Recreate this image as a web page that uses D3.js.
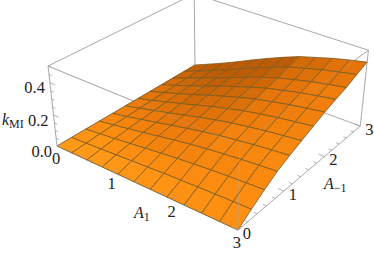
<!DOCTYPE html>
<html>
<head>
<meta charset="utf-8">
<script src="https://cdn.jsdelivr.net/npm/d3@7"></script>
<style>
html, body { margin: 0; padding: 0; background: #fff; }
text { font-family: "Liberation Serif", serif; fill: #222; }
</style>
</head>
<body>
<svg id="svg1"></svg>
<script>
var svg1 = d3.select("#svg1").attr("width", 374).attr("height", 254).style("display", "block");

// rows are A1 = 0..3, columns are A-1 = 0..3, in steps of 3/11
var gridA = [0, 0.2727, 0.5455, 0.8182, 1.0909, 1.3636, 1.6364, 1.9091, 2.1818, 2.4545, 2.7273, 3];
var kValues = [
	[0,0,0,0,0,0,0,0,0,0,0,0],
	[0,.006,.012,.017,.020,.024,.027,.031,.033,.036,.039,.043],
	[0,.012,.024,.034,.042,.049,.056,.063,.068,.074,.081,.087],
	[0,.019,.036,.052,.064,.075,.086,.096,.105,.113,.124,.134],
	[0,.026,.049,.071,.088,.102,.117,.132,.144,.154,.169,.183],
	[0,.032,.062,.090,.110,.129,.147,.165,.180,.194,.212,.230],
	[0,.039,.074,.107,.132,.154,.175,.197,.215,.232,.253,.274],
	[0,.044,.085,.123,.151,.176,.201,.226,.247,.266,.291,.315],
	[0,.049,.094,.135,.166,.194,.222,.249,.272,.293,.320,.346],
	[0,.053,.102,.147,.181,.211,.241,.271,.296,.318,.348,.376],
	[0,.057,.109,.157,.193,.225,.257,.289,.316,.339,.371,.402],
	[0,.060,.115,.166,.204,.238,.272,.306,.334,.359,.393,.425]
];
var aTicks = [0, 1, 2, 3];
var bTicks = [0, 1, 2, 3];
var kTicks = [0, 0.2, 0.4];
var kTickLabels = ["0.0", "0.2", "0.4"];

var aScale = d3.scaleLinear().domain([0, 3]).range([0, 1]);
var bScale = d3.scaleLinear().domain([0, 3]).range([0, 1]);
var kScale = d3.scaleLinear().domain([0, 0.5]).range([0, 1]);

// camera: origin corner on screen, and homogeneous edge vectors of the box
var camera = {
	o: [57, 146, 1],
	a: [153.6, 57.6, -0.115],
	b: [173.1, -69.3, 0.18],
	k: [-11.6, -83.6, -0.055]
};

function project(a, b, k)
{
	var u = aScale(a), v = bScale(b), t = kScale(k);
	var p = [0, 1, 2].map(function(i){
		return camera.o[i] + u*camera.a[i] + v*camera.b[i] + t*camera.k[i];
	});
	return {x: p[0]/p[2], y: p[1]/p[2], depth: p[2]};
}

var line = d3.line().x(function(d){ return d.x; }).y(function(d){ return d.y; });

function drawEdge(g, from, to, opacity)
{
	g.append("path")
		.attr("d", line([project(from[0], from[1], from[2]), project(to[0], to[1], to[2])]))
		.attr("fill", "none")
		.attr("stroke", "#a8a8a8")
		.attr("stroke-width", 1)
		.attr("stroke-opacity", opacity);
}

var boxBack = svg1.append("g").attr("id", "boxBack");
var boxEdges = [
	[[0,0,0],[0,0,.5]], [[0,3,0],[0,3,.5]], [[3,3,0],[3,3,.5]], [[3,0,0],[3,0,.5]],
	[[0,0,.5],[0,3,.5]], [[0,3,.5],[3,3,.5]], [[3,3,.5],[3,0,.5]], [[3,0,.5],[0,0,.5]],
	[[0,0,0],[0,3,0]], [[0,3,0],[3,3,0]], [[3,3,0],[3,0,0]], [[3,0,0],[0,0,0]]
];
boxEdges.forEach(function(e){ drawEdge(boxBack, e[0], e[1], 1); });

// surface cells, far ones first
var cells = [];
for (var i=0; i<gridA.length-1; i++)
{
	for (var j=0; j<gridA.length-1; j++)
	{
		var corners = [
			project(gridA[i], gridA[j], kValues[i][j]),
			project(gridA[i+1], gridA[j], kValues[i+1][j]),
			project(gridA[i+1], gridA[j+1], kValues[i+1][j+1]),
			project(gridA[i], gridA[j+1], kValues[i][j+1])
		];
		var dA = (kValues[i+1][j]+kValues[i+1][j+1]-kValues[i][j]-kValues[i][j+1])/2/(gridA[i+1]-gridA[i]);
		var dB = (kValues[i][j+1]+kValues[i+1][j+1]-kValues[i][j]-kValues[i+1][j])/2/(gridA[j+1]-gridA[j]);
		cells.push({
			corners: corners,
			shade: dA + 0.2*dB,
			depth: d3.mean(corners, function(c){ return c.depth; })
		});
	}
}
cells.sort(function(p, q){ return q.depth - p.depth; });

var shadeColor = d3.scaleLinear()
	.domain([0.02, 0.06, 0.1, 0.16])
	.range(["#ff9a18", "#fc8b10", "#e9780b", "#bd5c06"])
	.clamp(true);

var surface = svg1.append("g").attr("id", "surface");
surface.selectAll("path")
	.data(cells)
	.enter()
		.append("path")
			.attr("d", function(d){ return line(d.corners) + "Z"; })
			.attr("fill", function(d){ return shadeColor(d.shade); })
			.attr("stroke", "#7a5a20")
			.attr("stroke-width", 0.8)
			.attr("stroke-linejoin", "round");

// box edges that pass in front of the surface show through faintly
var boxFront = svg1.append("g").attr("id", "boxFront");
drawEdge(boxFront, [3,0,0], [3,0,.5], 0.55);
drawEdge(boxFront, [3,0,.5], [0,0,.5], 0.25);
drawEdge(boxFront, [3,0,.5], [3,3,.5], 0.25);

// ticks
var ticks = svg1.append("g").attr("id", "ticks")
	.attr("fill", "none").attr("stroke", "#a0a0a0").attr("stroke-width", 0.8);

function drawTick(from, to)
{
	ticks.append("path").attr("d", line([from, to]));
}

d3.range(0, 3.01, 0.2).forEach(function(v){
	var isMajor = Math.abs(v - Math.round(v)) < 0.01;
	var len = isMajor ? 0.09 : 0.05;
	drawTick(project(3, v, 0), project(3 - len, v, 0));
	drawTick(project(v, 0, 0), project(v, len, 0));
});
d3.range(0, 0.501, 0.05).forEach(function(v){
	var isMajor = Math.abs(v/0.2 - Math.round(v/0.2)) < 0.01;
	var len = isMajor ? 0.09 : 0.05;
	drawTick(project(0, 0, v), project(len, 0, v));
});

// tick labels
var labels = svg1.append("g").attr("id", "labels")
	.attr("font-size", 16.5)
	.attr("dominant-baseline", "central");

labels.selectAll(".aLabel")
	.data(aTicks)
	.enter()
		.append("text")
			.attr("class", "aLabel")
			.attr("text-anchor", "middle")
			.attr("x", function(d){ return project(d, 0, 0).x - 1; })
			.attr("y", function(d){ return project(d, 0, 0).y + 12; })
			.text(function(d){ return d; });

labels.selectAll(".bLabel")
	.data(bTicks)
	.enter()
		.append("text")
			.attr("class", "bLabel")
			.attr("text-anchor", "middle")
			.attr("x", function(d){ return project(3, d, 0).x + 9; })
			.attr("y", function(d){ return project(3, d, 0).y + 3; })
			.text(function(d){ return d; });

labels.selectAll(".kLabel")
	.data(kTicks)
	.enter()
		.append("text")
			.attr("class", "kLabel")
			.attr("text-anchor", "end")
			.attr("x", function(d){ return project(0, 0, d).x - 5; })
			.attr("y", function(d){ return project(0, 0, d).y + 5; })
			.text(function(d, i){ return kTickLabels[i]; });

// axis titles
function axisTitle(x, y, main, sub)
{
	var t = svg1.append("text").attr("x", x).attr("y", y).attr("font-size", 16);
	t.append("tspan").attr("font-style", "italic").text(main);
	t.append("tspan").attr("font-size", 12).attr("dy", 3).text(sub);
}

axisTitle(2, 125, "k", "MI");
axisTitle(134, 218, "A", "1");
axisTitle(324, 189, "A", "\u22121");
</script>
</body>
</html>
